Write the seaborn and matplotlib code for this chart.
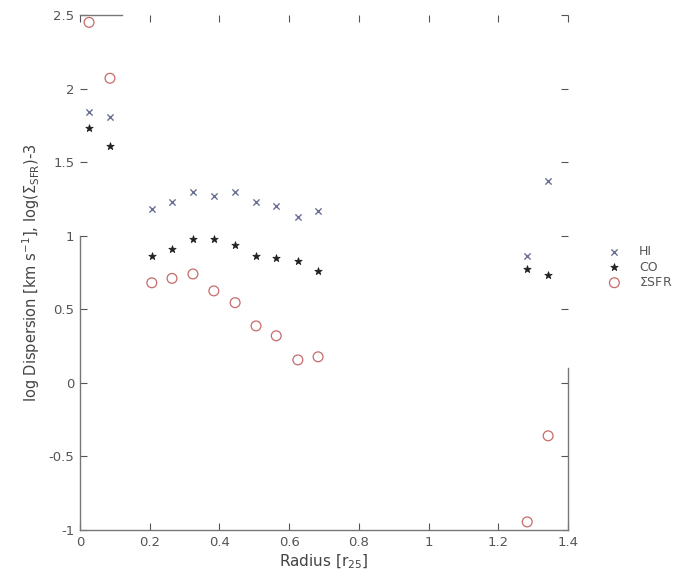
import numpy as np
import pandas as pd
import matplotlib
matplotlib.use("Agg")
import matplotlib.pyplot as plt
import seaborn as sns

# Radial bins (in units of r25)
radius = [0.026, 0.086, 0.206, 0.264, 0.324, 0.384, 0.445, 0.505, 0.563, 0.625, 0.683, 1.283, 1.343]
# log velocity dispersion of HI and CO [km/s], and log(Sigma_SFR) - 3
hi = [1.84, 1.81, 1.18, 1.23, 1.30, 1.27, 1.30, 1.23, 1.20, 1.13, 1.17, 0.86, 1.37]
co = [1.73, 1.61, 0.86, 0.91, 0.98, 0.98, 0.94, 0.86, 0.85, 0.83, 0.76, 0.775, 0.735]
sfr = [2.45, 2.07, 0.68, 0.71, 0.74, 0.625, 0.545, 0.387, 0.32, 0.156, 0.177, -0.945, -0.36]

x_ticks = [0, 0.2, 0.4, 0.6, 0.8, 1.0, 1.2, 1.4]
x_ticklabels = ["0", "0.2", "0.4", "0.6", "0.8", "1", "1.2", "1.4"]
y_ticks = [-1, -0.5, 0, 0.5, 1, 1.5, 2, 2.5]
y_ticklabels = ["-1", "-0.5", "0", "0.5", "1", "1.5", "2", "2.5"]

df = pd.DataFrame({"radius": radius, "HI": hi, "CO": co, "SFR": sfr})

sns.set_style("white")
plt.rcParams["font.family"] = ["DejaVu Sans"]

fig = plt.figure(figsize=(6.75, 5.78), dpi=100)
ax = fig.add_axes([80 / 675, 1 - 530 / 578, 488 / 675, 515 / 578])

sns.scatterplot(data=df, x="radius", y="HI", ax=ax, marker="x", s=20,
                color="#6a6f96", linewidth=1.0, label="HI")
sns.scatterplot(data=df, x="radius", y="CO", ax=ax, marker="*", s=30,
                color="#222222", edgecolor="#222222", linewidth=0.6, label="CO")
sns.scatterplot(data=df, x="radius", y="SFR", ax=ax, marker="o", s=50,
                facecolor="none", edgecolor="#c86a6a", linewidth=0.9,
                label=r"$\Sigma$SFR")

ax.set_xlim(0, 1.4)
ax.set_ylim(-1, 2.5)
ax.set_xticks(x_ticks)
ax.set_xticklabels(x_ticklabels)
ax.set_yticks(y_ticks)
ax.set_yticklabels(y_ticklabels)
ax.tick_params(direction="in", length=5, width=0.8, color="#555555",
               labelsize=9.5, labelcolor="#555555", top=True, right=True,
               bottom=True, left=True, pad=4)

for side in ["left", "bottom", "right", "top"]:
    ax.spines[side].set_color("#777777")
    ax.spines[side].set_linewidth(1.0)
ax.spines["left"].set_bounds(-1, 1.0)
ax.spines["right"].set_bounds(-1, 0.1)
ax.spines["top"].set_bounds(0, 0.12)

ax.set_xlabel(r"Radius [r$_{25}$]", fontsize=11, color="#444444", labelpad=3)
ax.set_ylabel(r"log Dispersion [km s$^{-1}$], log($\Sigma_{\rm SFR}$)-3",
              fontsize=10.5, color="#444444", labelpad=5)

leg = ax.legend(loc="center left", bbox_to_anchor=(600 / 675, 1 - 267 / 578),
                bbox_transform=fig.transFigure, frameon=False, fontsize=9,
                handletextpad=1.2, labelspacing=0.2, handlelength=1.5,
                borderaxespad=0)
for t in leg.get_texts():
    t.set_color("#555555")

fig.savefig("out.png", dpi=100, facecolor="white")
